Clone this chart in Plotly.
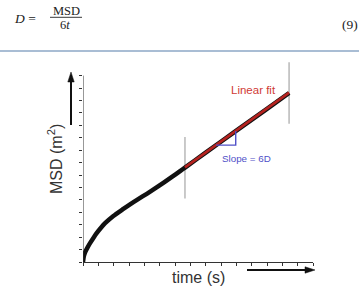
import plotly.graph_objects as go

# MSD curve (arbitrary units: time ticks 0..15, MSD ticks 0..15)
time_vals = [0.0, 0.05, 0.15, 0.3, 0.46, 0.7, 0.89, 1.2, 1.44, 1.98, 2.63, 3.07, 3.6, 4.16, 4.7, 5.24, 5.8, 6.33, 6.65, 8.0, 10.0, 12.0, 13.44]
msd_vals = [0.0, 0.45, 0.82, 1.18, 1.52, 1.98, 2.32, 2.80, 3.12, 3.70, 4.27, 4.64, 5.06, 5.49, 5.92, 6.37, 6.85, 7.31, 7.60, 8.80, 10.57, 12.33, 13.60]

# Linear fit region
fit_x = [6.65, 13.44]
fit_y = [7.62, 13.63]

# Slope triangle corners (x along fit line)
tri_x = [8.67, 9.96]

x_ticks = list(range(0, 16))
y_ticks = list(range(0, 16))

slope = (fit_y[1] - fit_y[0]) / (fit_x[1] - fit_x[0])
def fit_at(x):
    return fit_y[0] + (x - fit_x[0]) * slope

fig = go.Figure()
fig.add_trace(go.Scatter(x=time_vals, y=msd_vals, mode="lines",
                         line=dict(color="#111111", width=4.5, shape="spline", smoothing=0.6),
                         hoverinfo="skip", showlegend=False))
fig.add_trace(go.Scatter(x=fit_x, y=fit_y, mode="lines",
                         line=dict(color="#b5221f", width=2.6),
                         hoverinfo="skip", showlegend=False))
ty0 = fit_at(tri_x[0])
fig.add_trace(go.Scatter(x=[tri_x[0], tri_x[1], tri_x[1]], y=[ty0, ty0, fit_at(tri_x[1])],
                         mode="lines", line=dict(color="#5050c8", width=1.4),
                         hoverinfo="skip", showlegend=False))

shapes = []
for xv, yv in zip(fit_x, fit_y):
    shapes.append(dict(type="line", xref="x", yref="y", x0=xv, x1=xv, y0=yv - 2.5, y1=yv + 2.45,
                       line=dict(color="#b8b8b8", width=1.5), layer="below"))
# y axis line
shapes.append(dict(type="line", xref="x", yref="y", x0=0, x1=0, y0=0, y1=15,
                   line=dict(color="#333333", width=1)))

def px(p):
    return (p - 83) / 230

def py(p):
    return (262 - p) / 205

def seg(x0, y0, x1, y1, color, width):
    return dict(type="line", xref="paper", yref="paper", x0=px(x0), x1=px(x1), y0=py(y0), y1=py(y1),
                line=dict(color=color, width=width))

def tri(pts, color):
    path = "M " + " L ".join(f"{px(a):.5f},{py(b):.5f}" for a, b in pts) + " Z"
    return dict(type="path", xref="paper", yref="paper", path=path,
                fillcolor=color, line=dict(color=color, width=0.5))

# header separator
shapes.append(seg(0, 51, 359, 51, "#a9bdd4", 2.2))
# fraction bar
shapes.append(seg(50, 17.3, 82, 17.3, "#222222", 0.9))
# axis arrows
shapes.append(seg(71, 125, 71, 80, "#111111", 2))
shapes.append(tri([(71, 72), (67.8, 82), (74.2, 82)], "#111111"))
shapes.append(seg(247, 270, 307, 270, "#111111", 2))
shapes.append(tri([(315, 270), (305, 266.8), (305, 273.2)], "#111111"))

serif = "Liberation Serif, Times New Roman, serif"
sans = "Liberation Sans, Arial"

def note(x, y, text, size, color, family, angle=0):
    return dict(x=px(x), y=py(y), xref="paper", yref="paper", text=text, showarrow=False,
                xanchor="center", yanchor="middle", textangle=angle,
                font=dict(family=family, size=size, color=color))

ann = [
    note(25, 18.5, "<i>D</i> =", 13.5, "#222", serif),
    note(66, 10.5, "MSD", 12.5, "#222", serif),
    note(65, 25, "6<i>t</i>", 12.5, "#222", serif),
    note(350, 24.5, "(9)", 13.5, "#222", serif),
    note(253, 90, "Linear fit", 11.5, "#d03a36", sans),
    note(246, 158, "Slope = 6D", 9.8, "#5050c8", sans),
    note(55, 159, "MSD (m<sup>2</sup>)", 16, "#333", sans, -90),
    note(198, 277, "time (s)", 16, "#333", sans),
]

fig.update_layout(
    width=359, height=286,
    margin=dict(l=83, r=46, t=57, b=24),
    paper_bgcolor="white", plot_bgcolor="white",
    shapes=shapes, annotations=ann,
    xaxis=dict(range=[0, 15], tickvals=x_ticks, showticklabels=False, ticks="outside",
               ticklen=3, tickcolor="#333", showgrid=False, zeroline=False,
               showline=True, linecolor="#333", linewidth=1, fixedrange=True),
    yaxis=dict(range=[0, 16.5], tickvals=y_ticks, showticklabels=False, ticks="outside",
               ticklen=3, tickcolor="#333", showgrid=False, zeroline=False,
               showline=False, fixedrange=True),
)

fig.write_html("out.html", config={"displayModeBar": False})
